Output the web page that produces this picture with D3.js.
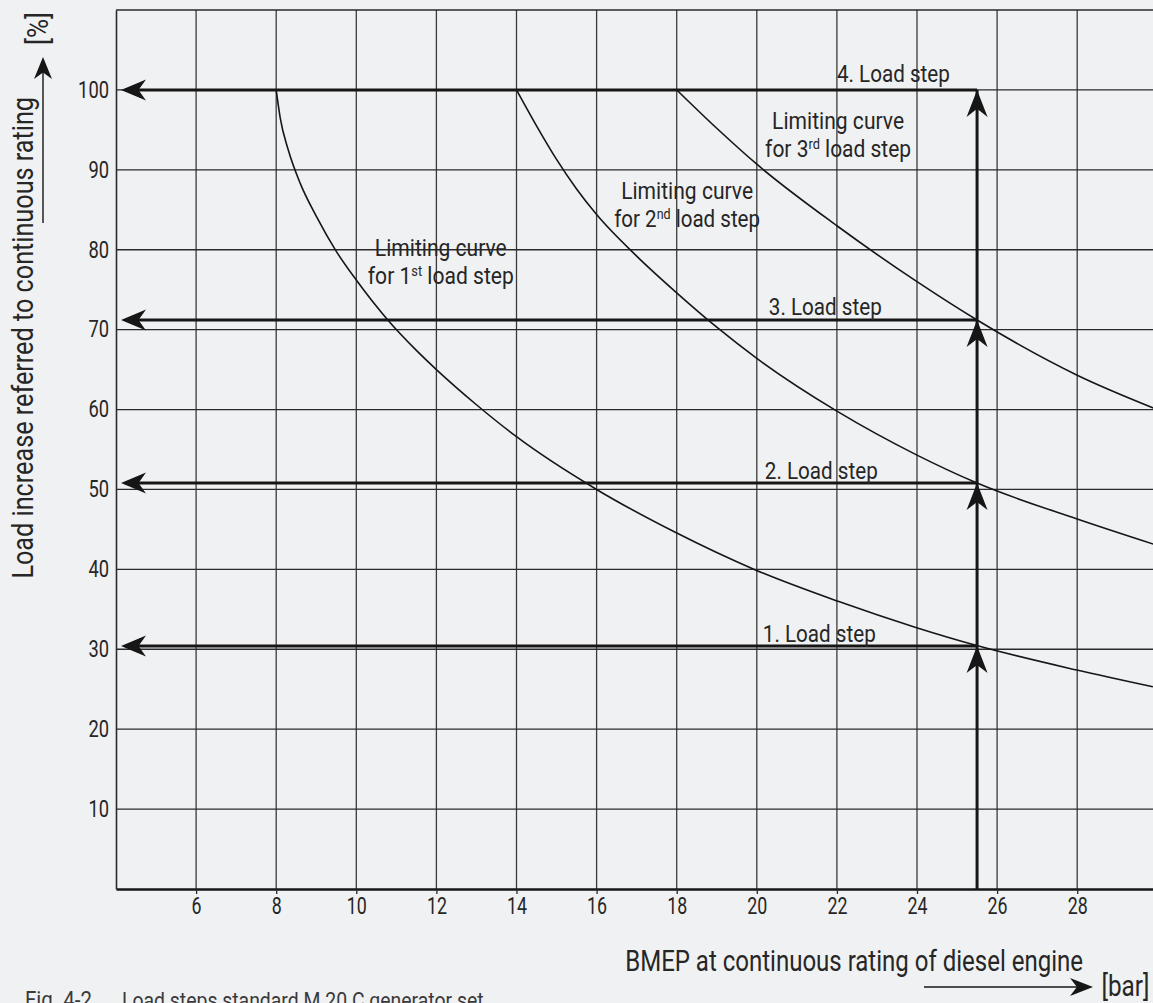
<!DOCTYPE html>
<html><head><meta charset="utf-8">
<script src="https://cdn.jsdelivr.net/npm/d3@7"></script>
<style>
html,body{margin:0;padding:0;background:#f0f1f3;}
svg{display:block;background:#f0f1f3;}
text{font-family:Roboto,"Liberation Sans",sans-serif;fill:#262626;}
</style></head><body>
<svg id="c" width="1153" height="1003"></svg>
<script>
// ---- data ----
const xTicks = [6, 8, 10, 12, 14, 16, 18, 20, 22, 24, 26, 28];
const yTicks = [10, 20, 30, 40, 50, 60, 70, 80, 90, 100];

const curve1Bmep = [8, 8.1, 8.3, 8.6, 9.0, 9.5, 10, 10.77, 11.5, 12, 13, 14, 16, 17.94, 19.98, 22.03, 23.99, 25.47, 27.99, 29.89];
const curve1Load = [100, 96.5, 92.5, 88.3, 84.2, 79.8, 76.2, 71.3, 67.4, 65.0, 60.6, 56.6, 50.0, 44.7, 39.9, 36.0, 32.7, 30.5, 27.4, 25.3];

const curve2Bmep = [14, 14.5, 15, 15.5, 16, 17, 18, 19, 20, 22, 24, 25.5, 28, 30];
const curve2Load = [100, 95.5, 91.3, 87.6, 84.4, 79.2, 74.6, 70.3, 66.4, 59.8, 54.3, 50.8, 46.3, 43.0];

const curve3Bmep = [18, 19, 20, 22, 24, 25.5, 28, 30];
const curve3Load = [100, 95.2, 90.7, 83.0, 76.0, 71.2, 64.3, 60.0];

const stepBmep = 25.5;
const stepLoads = [30.4, 50.8, 71.2, 100];
const stepNames = ["1. Load step", "2. Load step", "3. Load step", "4. Load step"];

const curveOrdinals = ["1", "2", "3"];
const curveSuffixes = ["st", "nd", "rd"];

// ---- layout ----
const INK = "#161616";
const x = d3.scaleLinear().domain([4, 30]).range([116, 1157.3]);
const y = d3.scaleLinear().domain([0, 110]).range([889, 10]);
const svg = d3.select("#c");

// horizontally condense a text to a target width, about anchor ax
function squeeze(node, w, ax) {
  const L = node.getComputedTextLength();
  if (!L) return;
  const k = w / L;
  d3.select(node).attr("transform", `translate(${ax},0) scale(${k},1) translate(${-ax},0)`);
}

// grid
const grid = svg.append("g");
grid.selectAll("line.v").data(xTicks).join("line").attr("class", "v")
  .attr("x1", d => x(d)).attr("x2", d => x(d))
  .attr("y1", y(110)).attr("y2", y(0))
  .attr("stroke", "#3a3a3a").attr("stroke-width", 1.3);
grid.selectAll("line.h").data(yTicks).join("line").attr("class", "h")
  .attr("x1", x(4)).attr("x2", x(30))
  .attr("y1", d => y(d)).attr("y2", d => y(d))
  .attr("stroke", "#2a2a2a").attr("stroke-width", 1.3);
grid.append("line").attr("x1", x(4)).attr("x2", x(30)).attr("y1", y(110)).attr("y2", y(110))
  .attr("stroke", "#2a2a2a").attr("stroke-width", 1.5);

// axes
const xAxis = svg.append("g").attr("transform", `translate(0,${y(0)})`)
  .call(d3.axisBottom(x).tickValues(xTicks).tickSize(5).tickPadding(4).tickSizeOuter(0).tickFormat(d3.format("d")));
xAxis.select(".domain").attr("stroke", INK).attr("stroke-width", 2.6);
xAxis.selectAll(".tick line").attr("stroke", "#2a2a2a").attr("stroke-width", 1.3);
xAxis.selectAll("text").attr("font-size", 23).attr("font-family", null)
  .each(function (d) { squeeze(this, 10 * String(d).length, 0); });

const yAxis = svg.append("g").attr("transform", `translate(${x(4)},0)`)
  .call(d3.axisLeft(y).tickValues(yTicks).tickSize(0).tickPadding(7).tickSizeOuter(0).tickFormat(d3.format("d")));
yAxis.select(".domain").attr("stroke", "#2a2a2a").attr("stroke-width", 1.6);
yAxis.selectAll("text").attr("font-size", 23).attr("font-family", null)
  .each(function (d) { squeeze(this, 10.3 * String(d).length, -7); });

// limiting curves
const line = d3.line().x(d => x(d[0])).y(d => y(d[1])).curve(d3.curveMonotoneX);
const curves = [
  d3.zip(curve1Bmep, curve1Load),
  d3.zip(curve2Bmep, curve2Load),
  d3.zip(curve3Bmep, curve3Load)
];
svg.append("g").selectAll("path").data(curves).join("path")
  .attr("d", line).attr("fill", "none").attr("stroke", INK).attr("stroke-width", 1.6);

// arrowhead helpers
function arrowLeft(tx, ty, len, wid) {
  return `M${tx},${ty}L${tx + len},${ty - wid / 2}L${tx + len * 0.7},${ty}L${tx + len},${ty + wid / 2}Z`;
}
function arrowUp(tx, ty, len, wid) {
  return `M${tx},${ty}L${tx - wid / 2},${ty + len}L${tx},${ty + len * 0.7}L${tx + wid / 2},${ty + len}Z`;
}
function arrowRight(tx, ty, len, wid) {
  return `M${tx},${ty}L${tx - len},${ty - wid / 2}L${tx - len * 0.7},${ty}L${tx - len},${ty + wid / 2}Z`;
}

// load steps
const steps = svg.append("g");
const tipX = x(4) + 5;
steps.selectAll("line.s").data(stepLoads).join("line").attr("class", "s")
  .attr("x1", tipX + 4).attr("x2", x(stepBmep))
  .attr("y1", d => y(d)).attr("y2", d => y(d))
  .attr("stroke", INK).attr("stroke-width", 3);
steps.append("line")
  .attr("x1", x(stepBmep)).attr("x2", x(stepBmep))
  .attr("y1", y(0)).attr("y2", y(d3.max(stepLoads)))
  .attr("stroke", INK).attr("stroke-width", 3);
steps.selectAll("path.l").data(stepLoads).join("path").attr("class", "l")
  .attr("d", d => arrowLeft(tipX, y(d), 25, 21)).attr("fill", INK);
steps.selectAll("path.u").data(stepLoads).join("path").attr("class", "u")
  .attr("d", d => arrowUp(x(stepBmep), y(d), 27, 21)).attr("fill", INK);

// step labels
const stepLabelX = [20.15, 20.2, 20.3, 22.0];
const stepLabelGap = [4.5, 4.5, 5.5, 8.3];
steps.selectAll("text").data(stepNames).join("text")
  .attr("x", (d, i) => x(stepLabelX[i]))
  .attr("y", (d, i) => y(stepLoads[i]) - stepLabelGap[i])
  .attr("font-size", 23)
  .text(d => d)
  .each(function (d, i) { squeeze(this, 113, x(stepLabelX[i])); });

// curve labels
const curveLabelPos = [[12.11, 79.2], [18.26, 86.4], [22.03, 95.1]];
curveLabelPos.forEach((p, i) => {
  const cx = x(p[0]), cy = y(p[1]);
  const t1 = svg.append("text").attr("x", cx).attr("y", cy).attr("text-anchor", "middle")
    .attr("font-size", 23).text("Limiting curve");
  squeeze(t1.node(), 132, cx);
  const t2 = svg.append("text").attr("x", cx).attr("y", cy + 28).attr("text-anchor", "middle").attr("font-size", 23);
  t2.append("tspan").text("for " + curveOrdinals[i]);
  t2.append("tspan").attr("font-size", 14).attr("dy", -8).text(curveSuffixes[i]);
  t2.append("tspan").attr("dy", 8).text("\u00a0load step");
  squeeze(t2.node(), 146, cx);
});

// y-axis title with arrow
const yTitle = svg.append("text").attr("transform", "translate(33,97) rotate(-90)")
  .attr("text-anchor", "end").attr("font-size", 29)
  .text("Load increase referred to continuous rating");
{
  const L = yTitle.node().getComputedTextLength();
  yTitle.attr("transform", `translate(33,97) rotate(-90) scale(${482 / L},1)`);
}
svg.append("line").attr("x1", 43).attr("x2", 43).attr("y1", 223).attr("y2", 70)
  .attr("stroke", INK).attr("stroke-width", 1.4);
svg.append("path").attr("d", arrowUp(43, 57, 22, 18)).attr("fill", INK);
const pct = svg.append("text").attr("transform", "translate(48,12) rotate(-90)")
  .attr("text-anchor", "end").attr("font-size", 29).text("[%]");
{
  const L = pct.node().getComputedTextLength();
  pct.attr("transform", `translate(48,12) rotate(-90) scale(${33 / L},1)`);
}

// x-axis title with arrow
const xTitle = svg.append("text").attr("x", 1083).attr("y", 970.7).attr("text-anchor", "end")
  .attr("font-size", 29).text("BMEP at continuous rating of diesel engine");
squeeze(xTitle.node(), 458, 1083);
svg.append("line").attr("x1", 924).attr("x2", 1080).attr("y1", 987).attr("y2", 987)
  .attr("stroke", INK).attr("stroke-width", 1.4);
svg.append("path").attr("d", arrowRight(1093, 987, 23, 18)).attr("fill", INK);
const bar = svg.append("text").attr("x", 1101.5).attr("y", 996).attr("font-size", 29).text("[bar]");
squeeze(bar.node(), 48, 1101.5);

// caption
const cap1 = svg.append("text").attr("x", 25).attr("y", 1008.5).attr("font-size", 23)
  .style("fill", "#3a3a3a").text("Fig. 4-2");
squeeze(cap1.node(), 67, 25);
const cap2 = svg.append("text").attr("x", 122).attr("y", 1008.5).attr("font-size", 23)
  .style("fill", "#3a3a3a").text("Load steps standard M 20 C generator set");
squeeze(cap2.node(), 362, 122);
</script>
</body></html>
